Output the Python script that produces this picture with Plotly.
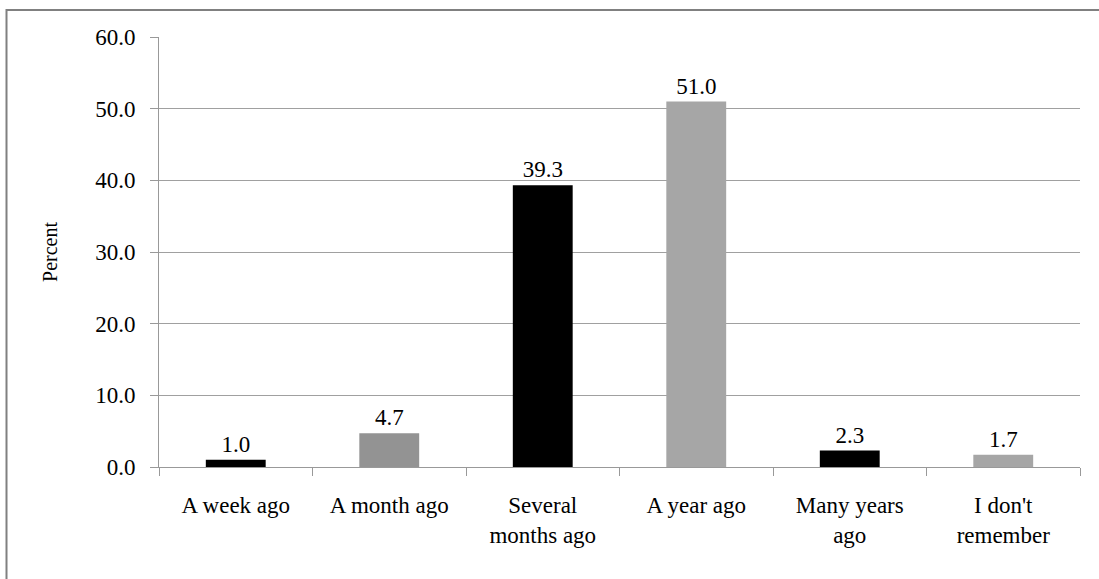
import plotly.graph_objects as go

categories = ["A week ago", "A month ago", "Several<br>months ago", "A year ago", "Many years<br>ago", "I don't<br>remember"]
values = [1.0, 4.7, 39.3, 51.0, 2.3, 1.7]
bar_colors = ["#000000", "#939393", "#000000", "#a6a6a6", "#000000", "#a6a6a6"]
y_title = "Percent"

FONT = "Liberation Serif, Times New Roman, serif"

fig = go.Figure()
fig.add_trace(go.Bar(
    x=categories, y=values,
    marker=dict(color=bar_colors, line=dict(width=0)),
    width=0.39,
    text=[f"{v:.1f}" for v in values],
    textposition="outside",
    textfont=dict(family=FONT, size=23, color="#000000"),
    cliponaxis=False,
    hoverinfo="skip",
))

fig.update_layout(
    width=1099, height=579,
    margin=dict(l=159, r=19, t=37, b=112),
    paper_bgcolor="white", plot_bgcolor="white",
    showlegend=False,
    font=dict(family=FONT, size=23, color="#000000"),
)
fig.update_yaxes(
    range=[0, 60], dtick=10, tickformat=".1f",
    tickfont=dict(family=FONT, size=23, color="#000000"),
    showgrid=True, gridcolor="#a0a0a0", gridwidth=1,
    showline=True, linecolor="#999999", linewidth=1,
    ticks="outside", ticklen=8, tickcolor="#999999",
    ticklabelstandoff=10,
    zeroline=False,
    title=dict(text=y_title, font=dict(family=FONT, size=20, color="#000000"), standoff=32),
)
fig.update_xaxes(
    tickfont=dict(family=FONT, size=23, color="#000000"),
    showline=True, linecolor="#999999", linewidth=1,
    ticks="outside", ticklen=8, tickcolor="#999999",
    tickson="boundaries",
    ticklabelstandoff=17,
    tickangle=0,
)
# outer frame
fig.add_shape(type="rect", xref="paper", yref="paper",
              x0=(6.5 - 159) / 921, x1=1.05, y0=-0.4, y1=(467 - 10) / 430,
              line=dict(color="#808080", width=2), fillcolor="rgba(0,0,0,0)", layer="below")

fig.write_html("out.html", config={"displayModeBar": False},
               post_script="document.body.style.margin='0px';")
